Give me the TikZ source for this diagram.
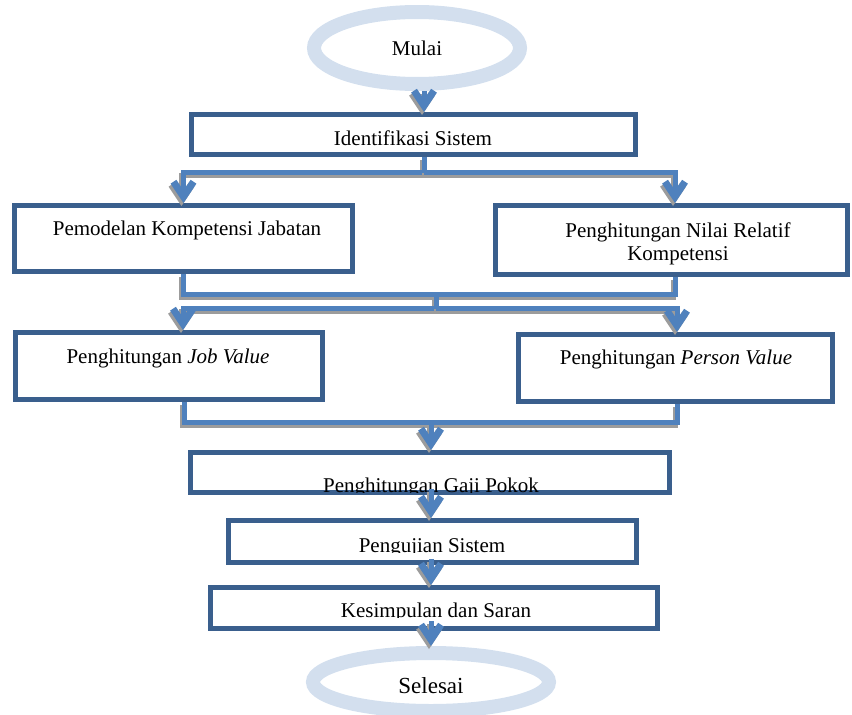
\documentclass[tikz,border=0pt]{standalone}
\usepackage{fontspec}
\setmainfont{Liberation Serif}
\usetikzlibrary{arrows.meta,shapes.geometric,calc}
\definecolor{boxblue}{HTML}{3A5F8D}
\definecolor{lineblue}{HTML}{4F81BD}
\definecolor{ringblue}{HTML}{D3DFEE}
\definecolor{shadowgray}{HTML}{9C9C9C}
\newcommand\myfs{\fontsize{21}{23}\selectfont}
\tikzset{
  flowbox/.style={draw=boxblue, line width=5pt, rectangle, inner sep=0pt, fill=white},
  ring/.style={draw=ringblue, line width=14pt, ellipse, inner sep=0pt},
  lbl/.style={anchor=base, inner sep=0pt, font=\myfs},
  bus/.style={draw=lineblue, line width=5pt,
    preaction={draw=shadowgray, line width=5pt, transform canvas={shift={(-2pt,-3pt)}}}},
  arr/.style={bus, -{Straight Barb[length=15pt,width=20pt,line width=7pt]}}
}
\begin{document}
\begin{tikzpicture}[x=1pt,y=-1pt]
\useasboundingbox (0,0) rectangle (852,715);
% terminals
\node[ring, minimum width=206pt, minimum height=72pt] (mulai) at (417,48) {};
\node[lbl] (mulaiT) at (417,55) {Mulai};
\node[ring, minimum width=236pt, minimum height=58pt] (selesai) at (431,682) {};
\node[lbl, font=\fontsize{23}{25}\selectfont] (selesaiT) at (431,693) {Selesai};
% boxes
\node[flowbox, minimum width=444pt, minimum height=40pt] (ident) at (413.5,134.5) {};
\node[flowbox, minimum width=338pt, minimum height=66pt] (pem) at (183.5,238.5) {};
\node[flowbox, minimum width=352pt, minimum height=69pt] (nil) at (671.5,240) {};
\node[flowbox, minimum width=307pt, minimum height=67pt] (job) at (169,366) {};
\node[flowbox, minimum width=314pt, minimum height=67pt] (per) at (675.5,368) {};
\node[flowbox, minimum width=479pt, minimum height=40pt] (gaji) at (430,472.5) {};
\node[flowbox, minimum width=408pt, minimum height=42pt] (uji) at (432.5,541.5) {};
\node[flowbox, minimum width=447pt, minimum height=41pt] (kes) at (434,608) {};
% labels
\node[lbl] (identT) at (413,145) {Identifikasi Sistem};
\node[lbl] (pemT) at (187,235) {Pemodelan Kompetensi Jabatan};
\node[font=\myfs, align=center, inner sep=0pt] (nilT) at (678,243.7) {Penghitungan Nilai Relatif\\Kompetensi};
\node[lbl] (jobT) at (168,363) {Penghitungan \textit{Job Value}};
\node[lbl] (perT) at (676,364) {Penghitungan \textit{Person Value}};
\begin{scope}
\clip (150,440) rectangle (700,492);
\node[lbl] (gajiT) at (431,492) {Penghitungan Gaji Pokok};
\end{scope}
\begin{scope}
\clip (150,520) rectangle (700,552);
\node[lbl] (ujiT) at (432,552) {Pengujian Sistem};
\end{scope}
\begin{scope}
\clip (150,590) rectangle (700,617);
\node[lbl] (kesT) at (436,617) {Kesimpulan dan Saran};
\end{scope}
% joints
\coordinate (c1) at (424,172);
\coordinate (c1R) at (675,172);
\coordinate (c2L) at (183,294);
\coordinate (c2M) at (436,294);
\coordinate (c2R) at (675,294);
\coordinate (c3M) at (436,308);
\coordinate (c3L) at (183,308);
\coordinate (c3R) at (677,308);
\coordinate (c4L) at (184,422);
\coordinate (c4M) at (431,422);
\coordinate (c4R) at (677,422);
\coordinate (c5) at (431,500);
% connectors
\draw[arr] (c1 |- mulai.south) -- (c1 |- ident.north);
\draw[bus] (c1 |- ident.south) -- (c1);
\draw[arr] (c1) -| (pem.north);
\draw[arr] (c1) -| (c1R |- nil.north);
\draw[bus] (c2L |- pem.south) -- (c2L) -- (c2R) -- (c2R |- nil.south);
\draw[bus] (c2M) -- (c3M);
\draw[arr] (c3M) -| (c3L |- job.north);
\draw[arr] (c3M) -| (c3R |- per.north);
\draw[bus] (c4L |- job.south) -- (c4L) -- (c4R) -- (c4R |- per.south);
\draw[arr] (c4M) -- (c4M |- gaji.north);
\draw[arr] ($(c5 |- gaji.south)+(0,-6)$) -- (c5 |- uji.north);
\draw[arr] ($(c5 |- uji.south)+(0,-6)$) -- (c5 |- kes.north);
\draw[arr] ($(c5 |- kes.south)+(0,-10)$) -- (c5 |- selesai.north);
\end{tikzpicture}
\end{document}
